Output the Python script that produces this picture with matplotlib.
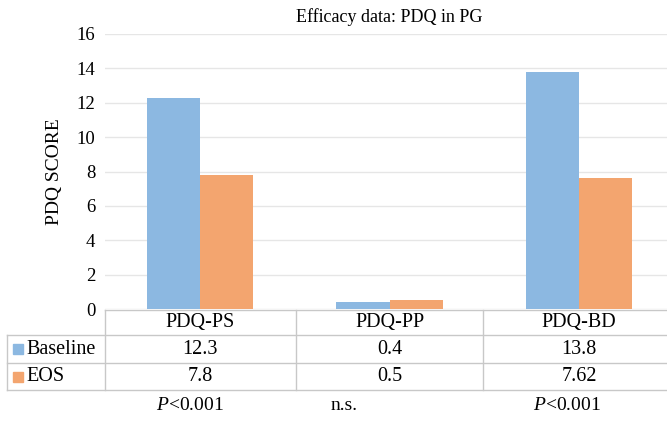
import matplotlib.pyplot as plt
import matplotlib.transforms as mtransforms
from matplotlib.lines import Line2D
from matplotlib.patches import Rectangle

categories = ["PDQ-PS", "PDQ-PP", "PDQ-BD"]
series_names = ["Baseline", "EOS"]
baseline = [12.3, 0.4, 13.8]
eos = [7.8, 0.5, 7.62]
cell_text = [["12.3", "0.4", "13.8"], ["7.8", "0.5", "7.62"]]
p_values = ["$P$<0.001", "n.s.", "$P$<0.001"]
yticks = [0, 2, 4, 6, 8, 10, 12, 14, 16]

colors = ["#8CB8E1", "#F3A56F"]
plt.rcParams['font.family'] = ['Liberation Serif', 'DejaVu Serif']
plt.rcParams['mathtext.fontset'] = 'custom'
plt.rcParams['mathtext.it'] = 'Liberation Serif:italic'
plt.rcParams['mathtext.rm'] = 'Liberation Serif'

W, H = 667, 422
fig = plt.figure(figsize=(W / 100, H / 100), dpi=100)
# axes from x=105 to 674 px, y=34 to 309 px
ax = fig.add_axes([105 / W, (H - 309) / H, (674 - 105) / W, (309 - 34) / H])

x = list(range(len(categories)))
bw = 0.28
ax.bar([i - bw / 2 for i in x], baseline, bw, color=colors[0], zorder=3)
ax.bar([i + bw / 2 for i in x], eos, bw, color=colors[1], zorder=3)

ax.set_xlim(-0.5, len(categories) - 0.5)
ax.set_ylim(0, 16)
ax.set_yticks(yticks)
ax.set_yticklabels([str(t) for t in yticks], fontsize=13.5)
ax.set_xticks([])
ax.tick_params(axis='y', length=0, pad=7)
ax.grid(axis='y', color='#E6E6E6', linewidth=1, zorder=0)
for s in ax.spines.values():
    s.set_visible(False)
ax.set_ylabel("PDQ SCORE", fontsize=14, labelpad=10)
ax.set_title("Efficacy data: PDQ in PG", fontsize=13, pad=9)

# data table under the chart, drawn in pixel coords of the figure
def px(xp, yp):
    return xp / W, (H - yp) / H

line_c = '#C8C8C8'
rows_y = [310, 335, 363, 390]
col_x = [105, 296, 483]

def hline(x0, x1, y):
    fig.add_artist(Line2D([px(x0, y)[0], px(x1, y)[0]], [px(x0, y)[1], px(x1, y)[1]],
                          color=line_c, linewidth=1))

def vline(xx, y0, y1):
    fig.add_artist(Line2D([px(xx, y0)[0], px(xx, y1)[0]], [px(xx, y0)[1], px(xx, y1)[1]],
                          color=line_c, linewidth=1))

hline(105, 667, rows_y[0])
for yy in rows_y[1:]:
    hline(7, 667, yy)
vline(7, rows_y[1], rows_y[3])
for xx in col_x:
    vline(xx, rows_y[0], rows_y[3])

# column labels, centred on the categories through the axes' data transform
trans = mtransforms.blended_transform_factory(ax.transData, fig.transFigure)
header_y = px(0, (rows_y[0] + rows_y[1]) / 2)[1]
for i, c in enumerate(categories):
    ax.text(i, header_y, c, transform=trans, ha='center', va='center', fontsize=14.5)

for r in range(len(series_names)):
    ymid = px(0, (rows_y[r + 1] + rows_y[r + 2]) / 2)[1]
    for i in range(len(categories)):
        ax.text(i, ymid, cell_text[r][i], transform=trans, ha='center', va='center',
                fontsize=14.5)
    sx, sy = px(13, (rows_y[r + 1] + rows_y[r + 2]) / 2 + 5)
    fig.add_artist(Rectangle((sx, sy), 10 / W, 10 / H, color=colors[r],
                             transform=fig.transFigure))
    fig.text(px(26, 0)[0], ymid, series_names[r], ha='left', va='center', fontsize=14.5)

# significance notes sit a little left of the column centres
p_x = [190, 344, 567]
for xp, p in zip(p_x, p_values):
    fig.text(px(xp, 0)[0], px(0, 406)[1], p, ha='center', va='center', fontsize=14)

fig.savefig("out.png", dpi=100)
